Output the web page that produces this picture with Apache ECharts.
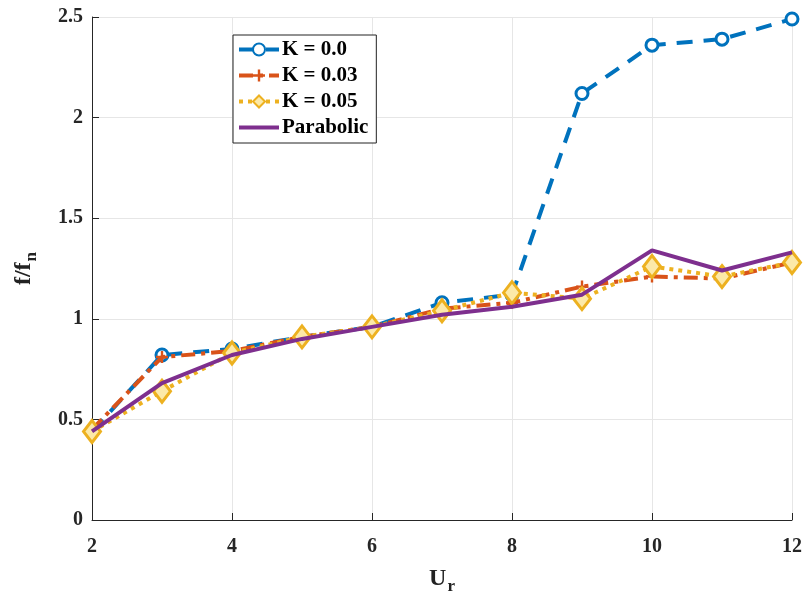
<!DOCTYPE html>
<html>
<head>
<meta charset="utf-8">
<script src="https://cdn.jsdelivr.net/npm/echarts@6/dist/echarts.min.js"></script>
<style>
  html, body { margin: 0; padding: 0; background: #fff; }
  #chart { width: 806px; height: 600px; }
</style>
</head>
<body>
<div id="chart"></div>
<script>
// Reduced velocity values on the horizontal axis
const ur = [2, 3, 4, 5, 6, 7, 8, 9, 10, 11, 12];

// Frequency ratio f/fn for each stiffness case
const k000 = [0.44, 0.82, 0.85, 0.91, 0.96, 1.08, 1.12, 2.12, 2.36, 2.39, 2.49];
const k003 = [0.45, 0.81, 0.84, 0.91, 0.96, 1.05, 1.08, 1.16, 1.21, 1.20, 1.28];
const k005 = [0.44, 0.64, 0.83, 0.91, 0.96, 1.04, 1.13, 1.10, 1.26, 1.21, 1.28];
const parabolic = [0.44, 0.68, 0.82, 0.90, 0.96, 1.02, 1.06, 1.12, 1.34, 1.24, 1.33];

const yTicks = [0, 0.5, 1, 1.5, 2, 2.5];
const xTicks = [2, 4, 6, 8, 10, 12];

const FONT = '"Liberation Serif", "Times New Roman", serif';
const pair = (ys) => ur.map((x, i) => [x, ys[i]]);

const PLUS = 'path://M4,0H6V4H10V6H6V10H4V6H0V4H4Z';
const BAR = 'path://M0,0H40V4H0Z';

const chart = echarts.init(document.getElementById('chart'), null, { renderer: 'canvas' });
chart.setOption({
  animation: false,
  backgroundColor: '#ffffff',
  grid: { left: 92, right: 14, top: 17, bottom: 79, containLabel: false },
  legend: {
    left: 233, top: 35,
    orient: 'vertical',
    backgroundColor: '#ffffff',
    borderColor: '#222',
    borderWidth: 1,
    borderRadius: 0,
    padding: [4, 8, 5, 4],
    itemGap: 5,
    itemWidth: 40,
    itemHeight: 15,
    lineStyle: { width: 4 },
    textStyle: { fontFamily: FONT, fontWeight: 'bold', fontSize: 21, color: '#000', padding: [0, 0, 0, -2] },
    data: [
      'K = 0.0',
      'K = 0.03',
      'K = 0.05',
      { name: 'Parabolic', icon: BAR }
    ]
  },
  xAxis: {
    type: 'value',
    min: 2, max: 12, interval: 2,
    name: 'U{sub|r}',
    nameLocation: 'middle',
    nameGap: 42,
    nameTextStyle: {
      fontFamily: FONT, fontWeight: 'bold', fontSize: 24, color: '#222',
      rich: { sub: { fontFamily: FONT, fontWeight: 'bold', fontSize: 17, color: '#222', padding: [16, 0, 0, 1] } }
    },
    axisLine: { show: true, lineStyle: { color: '#262626', width: 1 } },
    axisTick: { show: true, inside: true, length: 7, lineStyle: { color: '#262626' } },
    axisLabel: {
      fontFamily: FONT, fontWeight: 'bold', fontSize: 20, color: '#262626', margin: 17,
      formatter: (v) => xTicks.includes(v) ? String(v) : ''
    },
    splitLine: { show: true, lineStyle: { color: '#e6e6e6', width: 1 } }
  },
  yAxis: {
    type: 'value',
    min: 0, max: 2.5, interval: 0.5,
    name: 'f/f{sub|n}',
    nameLocation: 'middle',
    nameGap: 52,
    nameRotate: 90,
    nameTextStyle: {
      fontFamily: FONT, fontWeight: 'bold', fontSize: 24, color: '#222',
      padding: [0, 0, 0, 0],
      rich: { sub: { fontFamily: FONT, fontWeight: 'bold', fontSize: 17, color: '#222', padding: [16, 0, 0, 1] } }
    },
    axisLine: { show: true, lineStyle: { color: '#262626', width: 1 } },
    axisTick: { show: true, inside: true, length: 7, lineStyle: { color: '#262626' } },
    axisLabel: {
      fontFamily: FONT, fontWeight: 'bold', fontSize: 20, color: '#262626', margin: 9,
      formatter: (v) => yTicks.includes(v) ? String(v) : ''
    },
    splitLine: { show: true, lineStyle: { color: '#e6e6e6', width: 1 } }
  },
  series: [
    {
      name: 'K = 0.0', type: 'line', data: pair(k000),
      symbol: 'circle', symbolSize: 12,
      itemStyle: { color: '#ffffff', borderColor: '#0072BD', borderWidth: 3 },
      lineStyle: { color: '#0072BD', width: 4, type: [16, 11] },
      z: 2
    },
    {
      name: 'K = 0.03', type: 'line', data: pair(k003),
      symbol: PLUS, symbolSize: 12,
      itemStyle: { color: '#D95319', borderWidth: 0 },
      lineStyle: { color: '#D95319', width: 4, type: [14, 6, 4, 6] },
      z: 3
    },
    {
      name: 'K = 0.05', type: 'line', data: pair(k005),
      symbol: 'diamond', symbolSize: [17, 22],
      itemStyle: { color: '#FCE9A8', borderColor: '#EDB120', borderWidth: 3 },
      lineStyle: { color: '#EDB120', width: 4, type: [4, 5] },
      z: 4
    },
    {
      name: 'Parabolic', type: 'line', data: pair(parabolic),
      symbol: 'none', showSymbol: false,
      itemStyle: { color: '#7E2F8E' },
      lineStyle: { color: '#7E2F8E', width: 4, type: 'solid' },
      z: 5
    }
  ]
});
</script>
</body>
</html>
